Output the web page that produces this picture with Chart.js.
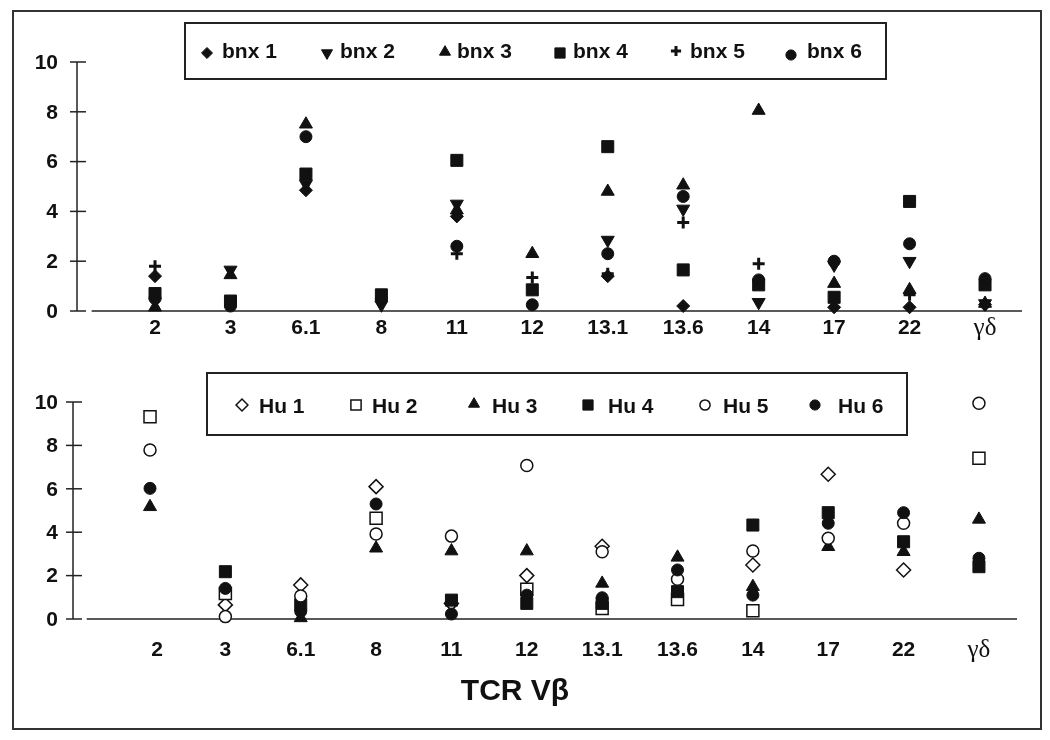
<!DOCTYPE html>
<html>
<head>
<meta charset="utf-8">
<script src="https://cdn.jsdelivr.net/npm/chart.js@4.4.0/dist/chart.umd.min.js"></script>
<style>
  body { margin: 0; background: #fff; }
  #wrap { position: relative; width: 1050px; height: 740px; }
  #wrap canvas { position: absolute; left: 0; top: 0; }
  #frame { position: absolute; left: 12px; top: 10px; width: 1026px; height: 716px; border: 2px solid #333; }
</style>
</head>
<body>
<div id="wrap">
  <div id="frame"></div>
  <canvas id="topChart" width="1050" height="740"></canvas>
  <canvas id="bottomChart" width="1050" height="740"></canvas>
</div>
<script>
// TCR Vbeta categories
const categories = ["2", "3", "6.1", "8", "11", "12", "13.1", "13.6", "14", "17", "22", "γδ"];
const yTicks = [0, 2, 4, 6, 8, 10];

// top panel (bnx)
const bnx1 = [1.4, null, 4.85, null, 3.8, null, 1.4, 0.2, null, 0.15, 0.15, 0.25];
const bnx2 = [null, 1.65, 5.1, 0.25, 4.3, null, 2.85, 4.1, 0.35, 1.85, 2.0, 0.3];
const bnx3 = [0.15, 1.45, 7.5, null, 4.05, 2.3, 4.8, 5.05, 8.05, 1.1, 0.85, 0.3];
const bnx4 = [0.7, 0.4, 5.5, 0.65, 6.05, 0.85, 6.6, 1.65, 1.05, 0.55, 4.4, 1.05];
const bnx5 = [1.8, null, null, null, 2.3, 1.35, 1.5, 3.55, 1.9, null, 0.65, 0.25];
const bnx6 = [0.5, 0.2, 7.0, 0.5, 2.6, 0.25, 2.3, 4.6, 1.25, 2.0, 2.7, 1.3];

// bottom panel (Hu)
const hu1 = [null, 0.65, 1.57, 6.1, 0.72, 2.0, 3.35, null, 2.49, 6.67, 2.26, null];
const hu2 = [9.32, 1.18, null, 4.64, null, 1.37, 0.49, 0.9, 0.38, null, null, 7.41];
const hu3 = [5.17, null, 0.05, 3.26, 3.13, 3.13, 1.64, 2.84, 1.49, 3.33, 3.1, 4.59];
const hu4 = [null, 2.18, 0.65, null, 0.87, 0.72, 0.72, 1.26, 4.33, 4.9, 3.56, 2.41];
const hu5 = [7.79, 0.11, 1.06, 3.92, 3.82, 7.07, 3.1, 1.83, 3.13, 3.72, 4.41, 9.94];
const hu6 = [6.02, 1.41, 0.35, 5.3, 0.23, 1.1, 0.98, 2.26, 1.1, 4.41, 4.9, 2.8];

const ink = '#111';
const drawPoint = Chart.helpers && Chart.helpers.drawPoint;

function toPoints(values) {
  return values.map((v, i) => ({ x: i, y: v })).filter(p => p.y !== null);
}

function makeSet(label, values, style, open, n) {
  return {
    label: label,
    data: toPoints(values),
    order: 10 - n,
    clip: false,
    pointStyle: style.shape,
    pointRadius: style.r,
    pointRotation: style.rot || 0,
    backgroundColor: open ? '#fff' : ink,
    borderColor: ink,
    borderWidth: style.shape === 'cross' ? 3 : (open ? 1.5 : 1),
    showLine: false
  };
}

// axes, ticks, labels and legend box drawn from the chart's own scales
function panelPlugin(cfg) {
  return {
    id: 'panel_' + cfg.name,
    beforeDatasetsDraw(chart) {
      const ctx = chart.ctx;
      const xs = chart.scales.x, ys = chart.scales.y;
      const ax = chart.chartArea.left;
      const y0 = ys.getPixelForValue(0);
      ctx.save();
      ctx.strokeStyle = '#222';
      ctx.lineWidth = 1.5;
      ctx.beginPath();
      ctx.moveTo(ax, y0);
      ctx.lineTo(ax, ys.getPixelForValue(yTicks[yTicks.length - 1]));
      ctx.stroke();
      ctx.fillStyle = ink;
      ctx.font = 'bold 21px "Liberation Sans", Arial, sans-serif';
      ctx.textAlign = 'right';
      ctx.textBaseline = 'middle';
      yTicks.forEach(t => {
        const py = ys.getPixelForValue(t);
        ctx.beginPath();
        ctx.moveTo(ax - 7, py);
        ctx.lineTo(ax + 9, py);
        ctx.stroke();
        ctx.fillText(String(t), 58, py + 1);
      });
      ctx.beginPath();
      ctx.moveTo(xs.getPixelForValue(-0.84), y0);
      ctx.lineTo(chart.chartArea.right, y0);
      ctx.stroke();
      ctx.textAlign = 'center';
      categories.forEach((c, i) => {
        const px = xs.getPixelForValue(i) + (cfg.labelShift[i] || 0);
        if (c === 'γδ') {
          ctx.font = '25px "Liberation Serif", "Times New Roman", serif';
        } else {
          ctx.font = 'bold 21px "Liberation Sans", Arial, sans-serif';
        }
        ctx.fillText(c, px, y0 + cfg.labelGap);
      });
      ctx.restore();
    },
    afterDraw(chart) {
      const ctx = chart.ctx;
      const b = cfg.box;
      ctx.save();
      ctx.strokeStyle = '#222';
      ctx.lineWidth = 2;
      ctx.strokeRect(b.x, b.y, b.w, b.h);
      ctx.font = 'bold 21px "Liberation Sans", Arial, sans-serif';
      ctx.textAlign = 'left';
      ctx.textBaseline = 'alphabetic';
      chart.data.datasets.forEach((ds, i) => {
        const it = cfg.items[i];
        ctx.fillStyle = ds.backgroundColor;
        ctx.strokeStyle = ds.borderColor;
        ctx.lineWidth = ds.borderWidth;
        if (drawPoint) {
          drawPoint(ctx, {
            pointStyle: ds.pointStyle,
            radius: ds.pointRadius * 0.85,
            rotation: ds.pointRotation,
            borderWidth: ds.borderWidth
          }, it.mx, it.my);
        }
        ctx.fillStyle = ink;
        ctx.fillText(ds.label, it.tx, cfg.textBase);
      });
      if (cfg.title) {
        ctx.font = 'bold 30px "Liberation Sans", Arial, sans-serif';
        ctx.textAlign = 'center';
        ctx.textBaseline = 'middle';
        ctx.fillText(cfg.title, 515, 692);
      }
      ctx.restore();
    }
  };
}

function baseOptions(pad, xmin, xmax) {
  return {
    responsive: false,
    animation: false,
    layout: { padding: pad },
    plugins: { legend: { display: false }, tooltip: { enabled: false } },
    scales: {
      x: { type: 'linear', min: xmin, max: xmax, display: false },
      y: { type: 'linear', min: 0, max: 10, display: false }
    }
  };
}

const tri = { shape: 'triangle', r: 7.5 };
const triDown = { shape: 'triangle', r: 7.5, rot: 180 };

new Chart(document.getElementById('topChart'), {
  type: 'scatter',
  data: {
    datasets: [
      makeSet('bnx 1', bnx1, { shape: 'rectRot', r: 6.5 }, false, 1),
      makeSet('bnx 2', bnx2, triDown, false, 2),
      makeSet('bnx 3', bnx3, tri, false, 3),
      makeSet('bnx 4', bnx4, { shape: 'rect', r: 8.5 }, false, 4),
      makeSet('bnx 5', bnx5, { shape: 'cross', r: 6 }, false, 5),
      makeSet('bnx 6', bnx6, { shape: 'circle', r: 6 }, false, 6)
    ]
  },
  options: baseOptions({ left: 77, right: 28, top: 62, bottom: 429 }, -1.034, 11.49),
  plugins: [panelPlugin({
    name: 'top',
    labelGap: 17,
    labelShift: {},
    box: { x: 185, y: 23, w: 701, h: 56 },
    textBase: 58,
    items: [
      { mx: 207, my: 53, tx: 222 },
      { mx: 327, my: 53, tx: 340 },
      { mx: 445, my: 52, tx: 457 },
      { mx: 560, my: 53, tx: 573 },
      { mx: 676, my: 51, tx: 690 },
      { mx: 791, my: 55, tx: 807 }
    ]
  })]
});

new Chart(document.getElementById('bottomChart'), {
  type: 'scatter',
  data: {
    datasets: [
      makeSet('Hu 1', hu1, { shape: 'rectRot', r: 7 }, true, 1),
      makeSet('Hu 2', hu2, { shape: 'rect', r: 8.5 }, true, 2),
      makeSet('Hu 3', hu3, tri, false, 3),
      makeSet('Hu 4', hu4, { shape: 'rect', r: 8.5 }, false, 4),
      makeSet('Hu 5', hu5, { shape: 'circle', r: 6 }, true, 5),
      makeSet('Hu 6', hu6, { shape: 'circle', r: 6 }, false, 6)
    ]
  },
  options: baseOptions({ left: 73, right: 33, top: 402, bottom: 121 }, -1.022, 11.505),
  plugins: [panelPlugin({
    name: 'bottom',
    labelGap: 31,
    labelShift: { 0: 7 },
    box: { x: 207, y: 373, w: 700, h: 62 },
    textBase: 413,
    title: 'TCR Vβ',
    items: [
      { mx: 242, my: 405, tx: 259 },
      { mx: 356, my: 405, tx: 372 },
      { mx: 474, my: 404, tx: 492 },
      { mx: 588, my: 405, tx: 608 },
      { mx: 705, my: 405, tx: 723 },
      { mx: 815, my: 405, tx: 838 }
    ]
  })]
});
</script>
</body>
</html>
